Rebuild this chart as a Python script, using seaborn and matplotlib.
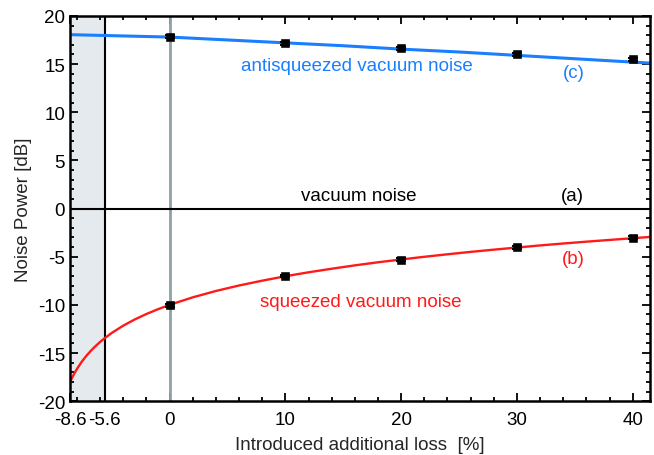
import numpy as np
import pandas as pd
import matplotlib
matplotlib.use("Agg")
import matplotlib.pyplot as plt
import seaborn as sns
from matplotlib.ticker import FixedLocator, MultipleLocator

# measured points (introduced loss in %, noise power in dB)
loss_pts = [0, 10, 20, 30, 40]
sq_pts = [-10.05, -7.0, -5.3, -4.0, -3.05]
anti_pts = [17.85, 17.15, 16.65, 16.0, 15.5]
err_pts = [0.15, 0.15, 0.15, 0.15, 0.15]

# theory curves
sq_x = [-8.6, -8.4, -8.2, -8.0, -7.6, -7.2, -6.8, -6.4, -6.0, -5.6, -5.0, -4.0, -3.0,
        -2.0, -1.0, 0, 2, 4, 6, 8, 10, 12, 14, 16, 18, 20, 22, 24, 26, 28, 30,
        32, 34, 36, 38, 40, 41.5]
sq_y = [-18.04, -17.52, -17.07, -16.66, -15.93, -15.31, -14.77, -14.29, -13.85, -13.46,
        -12.92, -12.16, -11.51, -10.95, -10.45, -10.0, -9.22, -8.56, -7.99, -7.49, -7.03,
        -6.62, -6.25, -5.90, -5.58, -5.29, -5.01, -4.75, -4.50, -4.27, -4.05, -3.83,
        -3.63, -3.44, -3.26, -3.08, -2.95]
anti_x = [-8.6, 0, 5, 10, 15, 20, 25, 30, 35, 40, 41.5]
anti_y = [18.05, 17.8, 17.5, 17.2, 16.9, 16.55, 16.25, 15.9, 15.55, 15.2, 15.1]

x_ticks = [-8.6, -5.6, 0, 10, 20, 30, 40]
x_ticklabels = ["-8.6", "-5.6", "0", "10", "20", "30", "40"]

sns.set_style("ticks")
plt.rcParams["font.family"] = ["Liberation Sans", "DejaVu Sans"]
plt.rcParams["axes.unicode_minus"] = False

fig = plt.figure(figsize=(6.54, 4.56), dpi=100)
ax = fig.add_axes([0.107, 0.118, 0.887, 0.845])

ax.axvspan(-8.6, -5.6, color="#e4eaed", zorder=0, lw=0)
ax.axvline(-5.6, color="black", lw=1.5, zorder=1)
ax.axvline(0, color="#8fa1a6", lw=2, zorder=1)
ax.axhline(0, color="black", lw=1.5, zorder=1)

df_sq = pd.DataFrame({"x": sq_x, "y": sq_y})
df_anti = pd.DataFrame({"x": anti_x, "y": anti_y})
sns.lineplot(data=df_sq, x="x", y="y", color="#ff1a1a", lw=1.7, ax=ax, zorder=2)
sns.lineplot(data=df_anti, x="x", y="y", color="#1a7fff", lw=2.2, ax=ax, zorder=2)

for yv in (sq_pts, anti_pts):
    ax.errorbar(loss_pts, yv, yerr=err_pts, fmt="none", ecolor="black",
                capsize=3.5, capthick=1.5, elinewidth=1.2, zorder=3)
    sns.scatterplot(x=loss_pts, y=yv, marker="s", s=28, color="black",
                    edgecolor="black", ax=ax, zorder=4)

fs = 13.5
ax.text(16.2, 14.8, "antisqueezed vacuum noise", color="#1a7fff", fontsize=fs,
        ha="center", va="center")
ax.text(34.9, 14.1, "(c)", color="#1a7fff", fontsize=fs, ha="center", va="center")
ax.text(16.3, 1.4, "vacuum noise", color="black", fontsize=fs, ha="center", va="center")
ax.text(34.8, 1.4, "(a)", color="black", fontsize=fs, ha="center", va="center")
ax.text(34.9, -5.2, "(b)", color="#ff1a1a", fontsize=fs, ha="center", va="center")
ax.text(16.5, -9.6, "squeezed vacuum noise", color="#ff1a1a", fontsize=fs,
        ha="center", va="center")

ax.set_xlim(-8.6, 41.5)
ax.set_ylim(-20, 20)
ax.xaxis.set_major_locator(FixedLocator(x_ticks))
ax.set_xticklabels(x_ticklabels)
ax.xaxis.set_minor_locator(MultipleLocator(2))
ax.yaxis.set_major_locator(MultipleLocator(5))
ax.yaxis.set_minor_locator(MultipleLocator(1))
ax.tick_params(which="both", direction="in", top=True, right=True, width=1.3,
               labelsize=fs, colors="black")
ax.tick_params(which="major", length=6)
ax.tick_params(which="minor", length=3)
ax.tick_params(axis="x", which="major", pad=7)
for s in ax.spines.values():
    s.set_linewidth(1.8)
    s.set_color("black")

ax.set_xlabel("Introduced additional loss  [%]", fontsize=fs, labelpad=6)
ax.set_ylabel("Noise Power [dB]", fontsize=fs)

fig.savefig("out.png", dpi=100)
